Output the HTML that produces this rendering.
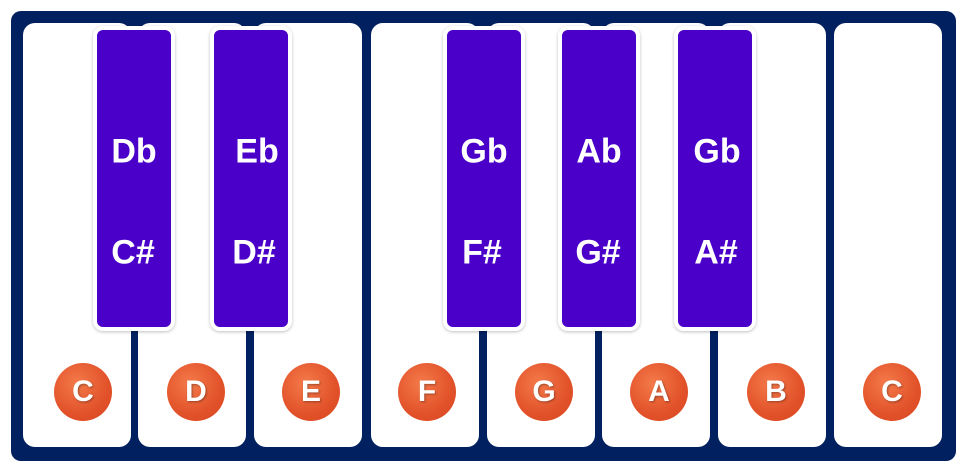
<!DOCTYPE html>
<html><head><style>
body{margin:0;width:966px;height:471px;background:#fff;position:relative;overflow:hidden;font-family:"Liberation Sans",sans-serif}
.frame{position:absolute;left:11px;top:11px;width:945px;height:450px;background:#002060;border-radius:10px}
.w{position:absolute;top:23px;height:424px;width:108px;background:#fff;border-radius:12px}
.b{position:absolute;top:26px;height:305px;width:82px;background:#4a00c8;border:4px solid #fff;border-radius:10px;box-sizing:border-box;box-shadow:0 1px 3px rgba(0,0,0,.25)}
.t{position:absolute;color:#fff;font-weight:bold;font-size:34px;transform:translate(-50%,-50%);white-space:nowrap}
.c{position:absolute;top:363px;width:58px;height:58px;border-radius:50%;background:radial-gradient(circle at 40% 35%,#f47a4a,#e2522a 60%,#d8461f);color:#fff;font-weight:bold;font-size:30px;line-height:58px;text-align:center;text-shadow:1px 1px 2px rgba(0,0,0,.35)}
</style></head><body>
<div class="frame"></div>
<div class="w" style="left:23px"></div>
<div class="w" style="left:138px"></div>
<div class="w" style="left:254px"></div>
<div class="w" style="left:371px"></div>
<div class="w" style="left:487px"></div>
<div class="w" style="left:602px"></div>
<div class="w" style="left:718px"></div>
<div class="w" style="left:834px"></div>
<div class="b" style="left:93px"></div>
<div class="b" style="left:210px"></div>
<div class="b" style="left:443px"></div>
<div class="b" style="left:558px"></div>
<div class="b" style="left:674px"></div>
<div class="t" style="left:134px;top:152px">Db</div>
<div class="t" style="left:257px;top:152px">Eb</div>
<div class="t" style="left:484px;top:152px">Gb</div>
<div class="t" style="left:599px;top:152px">Ab</div>
<div class="t" style="left:717px;top:152px">Gb</div>
<div class="t" style="left:133px;top:253px">C#</div>
<div class="t" style="left:254px;top:253px">D#</div>
<div class="t" style="left:482px;top:253px">F#</div>
<div class="t" style="left:598px;top:253px">G#</div>
<div class="t" style="left:716px;top:253px">A#</div>
<div class="c" style="left:54px">C</div>
<div class="c" style="left:167px">D</div>
<div class="c" style="left:282px">E</div>
<div class="c" style="left:398px">F</div>
<div class="c" style="left:515px">G</div>
<div class="c" style="left:630px">A</div>
<div class="c" style="left:747px">B</div>
<div class="c" style="left:863px">C</div>
</body></html>
